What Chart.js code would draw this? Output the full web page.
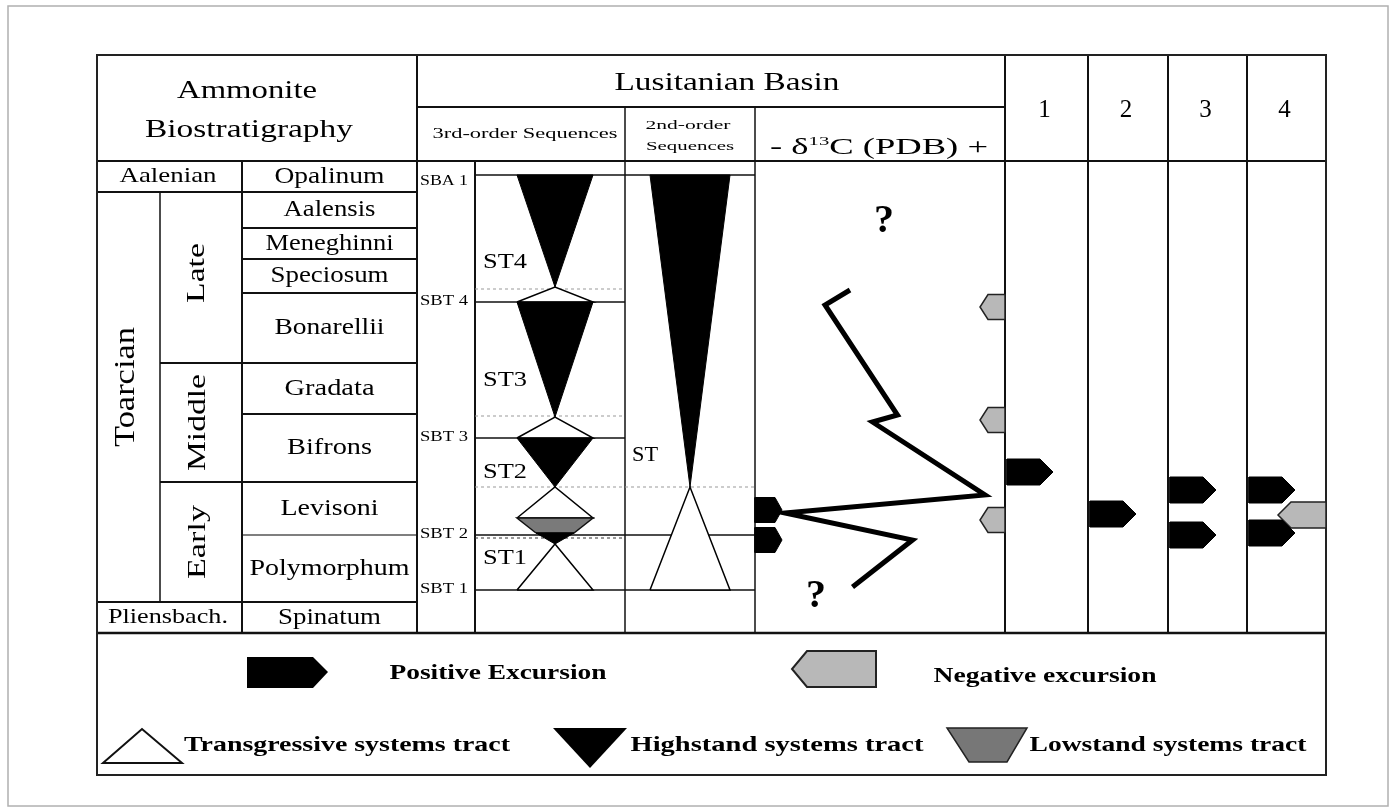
<!DOCTYPE html>
<html>
<head>
<meta charset="utf-8">
<script src="https://cdn.jsdelivr.net/npm/chart.js@4.4.1/dist/chart.umd.min.js"></script>
<style>
  html, body { margin: 0; padding: 0; background: #fff; }
</style>
</head>
<body>
<canvas id="chart" width="1396" height="812"></canvas>
<script>
// Stratigraphic levels are relative thickness units, 0 = base of Spinatum zone

const zones = ['Spinatum', 'Polymorphum', 'Levisoni', 'Bifrons', 'Gradata', 'Bonarellii', 'Speciosum', 'Meneghinni', 'Aalensis', 'Opalinum'];
const zoneTops = [31, 98, 151, 219, 270, 340, 374, 405, 441, 472];
const stages = ['Pliensbach.', 'Toarcian', 'Aalenian'];
const stageTops = [31, 441, 472];
const substages = ['Early', 'Middle', 'Late'];
const substageTops = [151, 270, 441];

// sequence boundaries
const seqBoundaries = ['SBT 1', 'SBT 2', 'SBT 3', 'SBT 4', 'SBA 1'];
const seqBoundaryLevels = [43, 98, 195, 331, 458];
const boundaryIn2nd = [true, true, false, false, true];
const mfs3rd = [95, 146, 217, 344];
const mfs2nd = [146];

// systems tracts, 3rd order
const tracts3rd = ['ST1', 'ST1', 'ST2', 'ST2', 'ST2', 'ST3', 'ST3', 'ST4', 'ST4'];
const tractTypes3rd = ['TST', 'HST', 'LST', 'TST', 'HST', 'TST', 'HST', 'TST', 'HST'];
const tractBases3rd = [43, 89, 100, 115, 146, 195, 216, 331, 346];
const tractTops3rd = [89, 100, 115, 146, 195, 216, 331, 346, 458];
// 2nd order
const tractTypes2nd = ['TST', 'HST'];
const tractBases2nd = [43, 146];
const tractTops2nd = [146, 458];

// carbon isotope curve (relative scale, 0 = "-" side, 10 = "+" side)
const d13cLevels = [343, 328, 218, 211, 138, 120, 93, 46];
const d13cValues = [3.8, 2.8, 5.7, 4.7, 9.2, 1.2, 6.3, 3.9];

// excursions per column (Lusitanian curve, then sections 1-4)
const excursionColumns = ['δ13C', '1', '2', '3', '4'];
const positiveExcursions = [[123, 93], [161], [119], [143, 98], [143, 100]];
const negativeExcursions = [[326, 213, 113], [], [], [], [118]];

// ---- layout (pixels) ----
const L = {
  left: 97, right: 1326, top: 55, bottom: 775,
  headRow: 107, headBottom: 161, dataBottom: 633,
  colStage: 160, colZone: 242, colBasin: 417, colSB: 475, col3rd: 625, col2nd: 755, colD13C: 1005,
  siteLines: [1005, 1088, 1168, 1247, 1326]
};
const SERIF = '"Liberation Serif", "Times New Roman", serif';
const C3 = 555, W3 = 38, C2 = 690, W2 = 40;
const LEVEL_MAX = zoneTops[zoneTops.length - 1];
const yUnit = LEVEL_MAX / (L.dataBottom - L.headBottom);

const TRACT_STYLE = {
  TST: { fill: '#ffffff', stroke: '#000', width: 1.5 },
  HST: { fill: '#000000', stroke: '#000', width: 1 },
  LST: { fill: '#7a7a7a', stroke: '#111', width: 1.5 }
};
const POS_STYLE = { fill: '#000', stroke: '#000', width: 1 };
const NEG_STYLE = { fill: '#b8b8b8', stroke: '#222', width: 1.5 };

function polygon(points, style, axis) {
  return {
    data: points.concat([points[0]]).map(p => ({ x: p[0], y: p[1] })),
    xAxisID: axis || 'x',
    showLine: true,
    fill: 'shape',
    backgroundColor: style.fill,
    borderColor: style.stroke,
    borderWidth: style.width,
    pointRadius: 0,
    pointHoverRadius: 0,
    tension: 0,
    borderJoinStyle: 'miter'
  };
}

function tractSets(types, bases, tops, cx, hw) {
  return types.map((t, i) => {
    let wb, wt;
    if (t === 'TST') { wb = hw; wt = 0; }
    else if (t === 'HST') { wb = 0; wt = (types[i + 1] === 'LST' && bases[i + 1] === tops[i]) ? hw / 2 : hw; }
    else { wb = hw / 2; wt = hw; }
    return polygon([[cx - wb, bases[i]], [cx + wb, bases[i]], [cx + wt, tops[i]], [cx - wt, tops[i]]], TRACT_STYLE[t]);
  });
}

function arrowSet(xBase, dir, level, len, h, tip, style) {
  const hh = h / 2 * yUnit;
  const xe = xBase + dir * len, xt = xe - dir * tip;
  return polygon([[xBase, level - hh], [xt, level - hh], [xe, level], [xt, level + hh], [xBase, level + hh]], style);
}

const datasets = [];
datasets.push(...tractSets(tractTypes3rd, tractBases3rd, tractTops3rd, C3, W3));
datasets.push(...tractSets(tractTypes2nd, tractBases2nd, tractTops2nd, C2, W2));

datasets.push({
  data: d13cValues.map((v, i) => ({ x: v, y: d13cLevels[i] })),
  xAxisID: 'xd',
  showLine: true, fill: false,
  borderColor: '#000', borderWidth: 5,
  pointRadius: 0, pointHoverRadius: 0, tension: 0,
  borderJoinStyle: 'miter', borderCapStyle: 'butt'
});

excursionColumns.forEach((col, k) => {
  const first = k === 0;
  const leftX = first ? L.col2nd : L.siteLines[k - 1] + 2;
  const rightX = first ? L.colD13C : L.siteLines[k];
  positiveExcursions[k].forEach(lv => {
    datasets.push(first ? arrowSet(leftX, 1, lv, 27, 25, 7, POS_STYLE) : arrowSet(leftX, 1, lv, 46, 26, 13, POS_STYLE));
  });
  negativeExcursions[k].forEach(lv => {
    datasets.push(first ? arrowSet(rightX, -1, lv, 25, 25, 8, NEG_STYLE) : arrowSet(rightX, -1, lv, 48, 26, 13, NEG_STYLE));
  });
});

// ---- text helpers ----
function fitText(ctx, txt, cx, cy, size, width, bold, rot) {
  ctx.save();
  ctx.font = (bold ? 'bold ' : '') + size + 'px ' + SERIF;
  ctx.textAlign = 'center';
  ctx.textBaseline = 'middle';
  ctx.fillStyle = '#000';
  ctx.translate(cx, cy);
  if (rot) ctx.rotate(-Math.PI / 2);
  if (width) ctx.scale(width / ctx.measureText(txt).width, 1);
  ctx.fillText(txt, 0, 0);
  ctx.restore();
}

function hline(ctx, x0, x1, y, w, color, dash) {
  ctx.save();
  ctx.strokeStyle = color || '#111';
  ctx.lineWidth = w || 2;
  if (dash) ctx.setLineDash(dash);
  ctx.beginPath(); ctx.moveTo(x0, y); ctx.lineTo(x1, y); ctx.stroke();
  ctx.restore();
}
function vline(ctx, x, y0, y1, w, color) {
  ctx.save();
  ctx.strokeStyle = color || '#111';
  ctx.lineWidth = w || 2;
  ctx.beginPath(); ctx.moveTo(x, y0); ctx.lineTo(x, y1); ctx.stroke();
  ctx.restore();
}
function shape(ctx, pts, fill, stroke, w) {
  ctx.save();
  ctx.beginPath();
  pts.forEach((p, i) => i ? ctx.lineTo(p[0], p[1]) : ctx.moveTo(p[0], p[1]));
  ctx.closePath();
  ctx.fillStyle = fill; ctx.fill();
  if (stroke) { ctx.strokeStyle = stroke; ctx.lineWidth = w; ctx.stroke(); }
  ctx.restore();
}

const ZONE_TEXT_W = { Spinatum: 103, Polymorphum: 160, Levisoni: 98, Bifrons: 85, Gradata: 90, Bonarellii: 110, Speciosum: 118, Meneghinni: 128, Aalensis: 92, Opalinum: 110 };
const ST_LABEL_Y = { ST1: 558, ST2: 472, ST3: 380, ST4: 262 };

const tablePlugin = {
  id: 'stratTable',
  beforeDatasetsDraw(chart) {
    const ctx = chart.ctx;
    const ys = chart.scales.y;
    const py = v => ys.getPixelForValue(v);

    // outer picture frame
    ctx.save(); ctx.strokeStyle = '#b0b0b0'; ctx.lineWidth = 1.5;
    ctx.strokeRect(8, 6, 1380, 800); ctx.restore();

    // header rows
    hline(ctx, L.left, L.right, L.headBottom, 2);
    hline(ctx, L.colBasin, L.colD13C, L.headRow, 2);

    // biostratigraphy boundaries
    zoneTops.slice(0, -1).forEach(lv => {
      let x0 = L.colZone;
      if (stageTops.includes(lv)) x0 = L.left;
      else if (substageTops.includes(lv)) x0 = L.colStage;
      hline(ctx, x0, L.colBasin, py(lv), lv === 98 ? 1.5 : 2, lv === 98 ? '#555' : '#111');
    });
    vline(ctx, L.colStage, py(stageTops[1]), py(stageTops[0]), 1.5);
    vline(ctx, L.colZone, L.headBottom, L.dataBottom, 2);
    vline(ctx, L.colBasin, L.top, L.dataBottom, 2);
    vline(ctx, L.colSB, L.headBottom, L.dataBottom, 2);
    vline(ctx, L.col3rd, L.headRow, L.dataBottom, 1.5);
    vline(ctx, L.col2nd, L.headRow, L.dataBottom, 1.5);
    L.siteLines.slice(0, -1).forEach(x => vline(ctx, x, L.top, L.dataBottom, 2));

    // sequence boundaries and maximum flooding surfaces
    seqBoundaryLevels.forEach((lv, i) => {
      hline(ctx, L.colSB, boundaryIn2nd[i] ? L.col2nd : L.col3rd, py(lv), 1.5);
    });
    mfs3rd.forEach(lv => hline(ctx, L.colSB, L.col3rd, py(lv), 1, lv === 95 ? '#333' : '#999', [3, 3]));
    mfs2nd.forEach(lv => hline(ctx, L.col3rd, L.col2nd, py(lv), 1, '#999', [3, 3]));

    // bottom of data area and outer border
    hline(ctx, L.left, L.right, L.dataBottom, 2.5);
    ctx.save(); ctx.strokeStyle = '#222'; ctx.lineWidth = 2;
    ctx.strokeRect(L.left, L.top, L.right - L.left, L.bottom - L.top); ctx.restore();
  },
  afterDatasetsDraw(chart) {
    const ctx = chart.ctx;
    const ys = chart.scales.y;
    const py = v => ys.getPixelForValue(v);

    // header texts
    fitText(ctx, 'Ammonite', 247, 91, 26, 140);
    fitText(ctx, 'Biostratigraphy', 249, 130, 26, 208);
    fitText(ctx, 'Lusitanian Basin', 727, 83, 26, 225);
    fitText(ctx, '3rd-order Sequences', 525, 134, 14, 185);
    fitText(ctx, '2nd-order', 688, 126, 13, 85);
    fitText(ctx, 'Sequences', 690, 147, 13, 88);
    ['1', '2', '3', '4'].forEach((t, i) => {
      fitText(ctx, t, (L.siteLines[i] + L.siteLines[i + 1]) / 2 - 2, 110, 25);
    });

    // δ13C header with superscript
    const parts = [{ t: '- δ', s: 23, dy: 0 }, { t: '13', s: 13, dy: -9 }, { t: 'C (PDB) +', s: 23, dy: 0 }];
    let total = 0;
    parts.forEach(p => { ctx.font = p.s + 'px ' + SERIF; p.w = ctx.measureText(p.t).width; total += p.w; });
    ctx.save();
    ctx.fillStyle = '#000'; ctx.textAlign = 'left'; ctx.textBaseline = 'alphabetic';
    ctx.translate(770, 154); ctx.scale(218 / total, 1);
    let xx = 0;
    parts.forEach(p => { ctx.font = p.s + 'px ' + SERIF; ctx.fillText(p.t, xx, p.dy); xx += p.w; });
    ctx.restore();

    // stages / substages
    fitText(ctx, stages[2], 168, (py(stageTops[2]) + py(stageTops[1])) / 2, 22, 97);
    fitText(ctx, stages[0], 168, (py(stageTops[0]) + py(0)) / 2, 22, 120);
    fitText(ctx, stages[1], 126, 387, 29, 120, false, true);
    fitText(ctx, substages[2], 197, 273, 26, 60, false, true);
    fitText(ctx, substages[1], 198, (py(substageTops[1]) + py(substageTops[0])) / 2, 26, 97, false, true);
    fitText(ctx, substages[0], 198, (py(substageTops[0]) + py(stageTops[0])) / 2, 26, 74, false, true);

    // zones
    zones.forEach((z, i) => {
      const lo = i ? zoneTops[i - 1] : 0;
      fitText(ctx, z, (L.colZone + L.colBasin) / 2, (py(lo) + py(zoneTops[i])) / 2, 23, ZONE_TEXT_W[z]);
    });

    // sequence boundary labels
    seqBoundaries.forEach((s, i) => {
      fitText(ctx, s, 444, Math.max(py(seqBoundaryLevels[i]) - 1, L.headBottom + 20), 14, 48);
    });
    // sequence labels
    [...new Set(tracts3rd)].forEach(s => fitText(ctx, s, 505, ST_LABEL_Y[s], 21, 44));
    fitText(ctx, 'ST', 645, 455, 21, 26);

    // question marks
    fitText(ctx, '?', 884, 222, 40, 0, true);
    fitText(ctx, '?', 816, 597, 40, 0, true);

    // ---- legend ----
    shape(ctx, [[247, 657], [313, 657], [328, 672], [313, 688], [247, 688]], '#000');
    fitText(ctx, 'Positive Excursion', 498, 673, 22, 217, true);
    shape(ctx, [[876, 651], [807, 651], [792, 669], [807, 687], [876, 687]], '#b8b8b8', '#222', 2);
    fitText(ctx, 'Negative excursion', 1045, 676, 22, 223, true);
    shape(ctx, [[103, 763], [182, 763], [142, 729]], '#fff', '#111', 2);
    fitText(ctx, 'Transgressive systems tract', 347, 745, 22, 326, true);
    shape(ctx, [[553, 728], [627, 728], [590, 768]], '#000');
    fitText(ctx, 'Highstand systems tract', 777, 745, 22, 293, true);
    shape(ctx, [[947, 728], [1027, 728], [1007, 762], [969, 762]], '#777', '#222', 1.5);
    fitText(ctx, 'Lowstand systems tract', 1168, 745, 22, 277, true);
  }
};

const xdPerPx = 10 / (L.colD13C - L.col2nd);

new Chart(document.getElementById('chart'), {
  type: 'line',
  data: { datasets },
  options: {
    responsive: false,
    animation: false,
    devicePixelRatio: 1,
    events: [],
    layout: { padding: { left: L.left, right: 1396 - L.right, top: L.headBottom, bottom: 812 - L.dataBottom } },
    plugins: { legend: { display: false }, tooltip: { enabled: false } },
    scales: {
      x: { type: 'linear', display: false, min: L.left, max: L.right },
      xd: { type: 'linear', axis: 'x', display: false, min: -(L.col2nd - L.left) * xdPerPx, max: 10 + (L.right - L.colD13C) * xdPerPx },
      y: { type: 'linear', display: false, min: 0, max: LEVEL_MAX }
    }
  },
  plugins: [tablePlugin]
});
</script>
</body>
</html>
